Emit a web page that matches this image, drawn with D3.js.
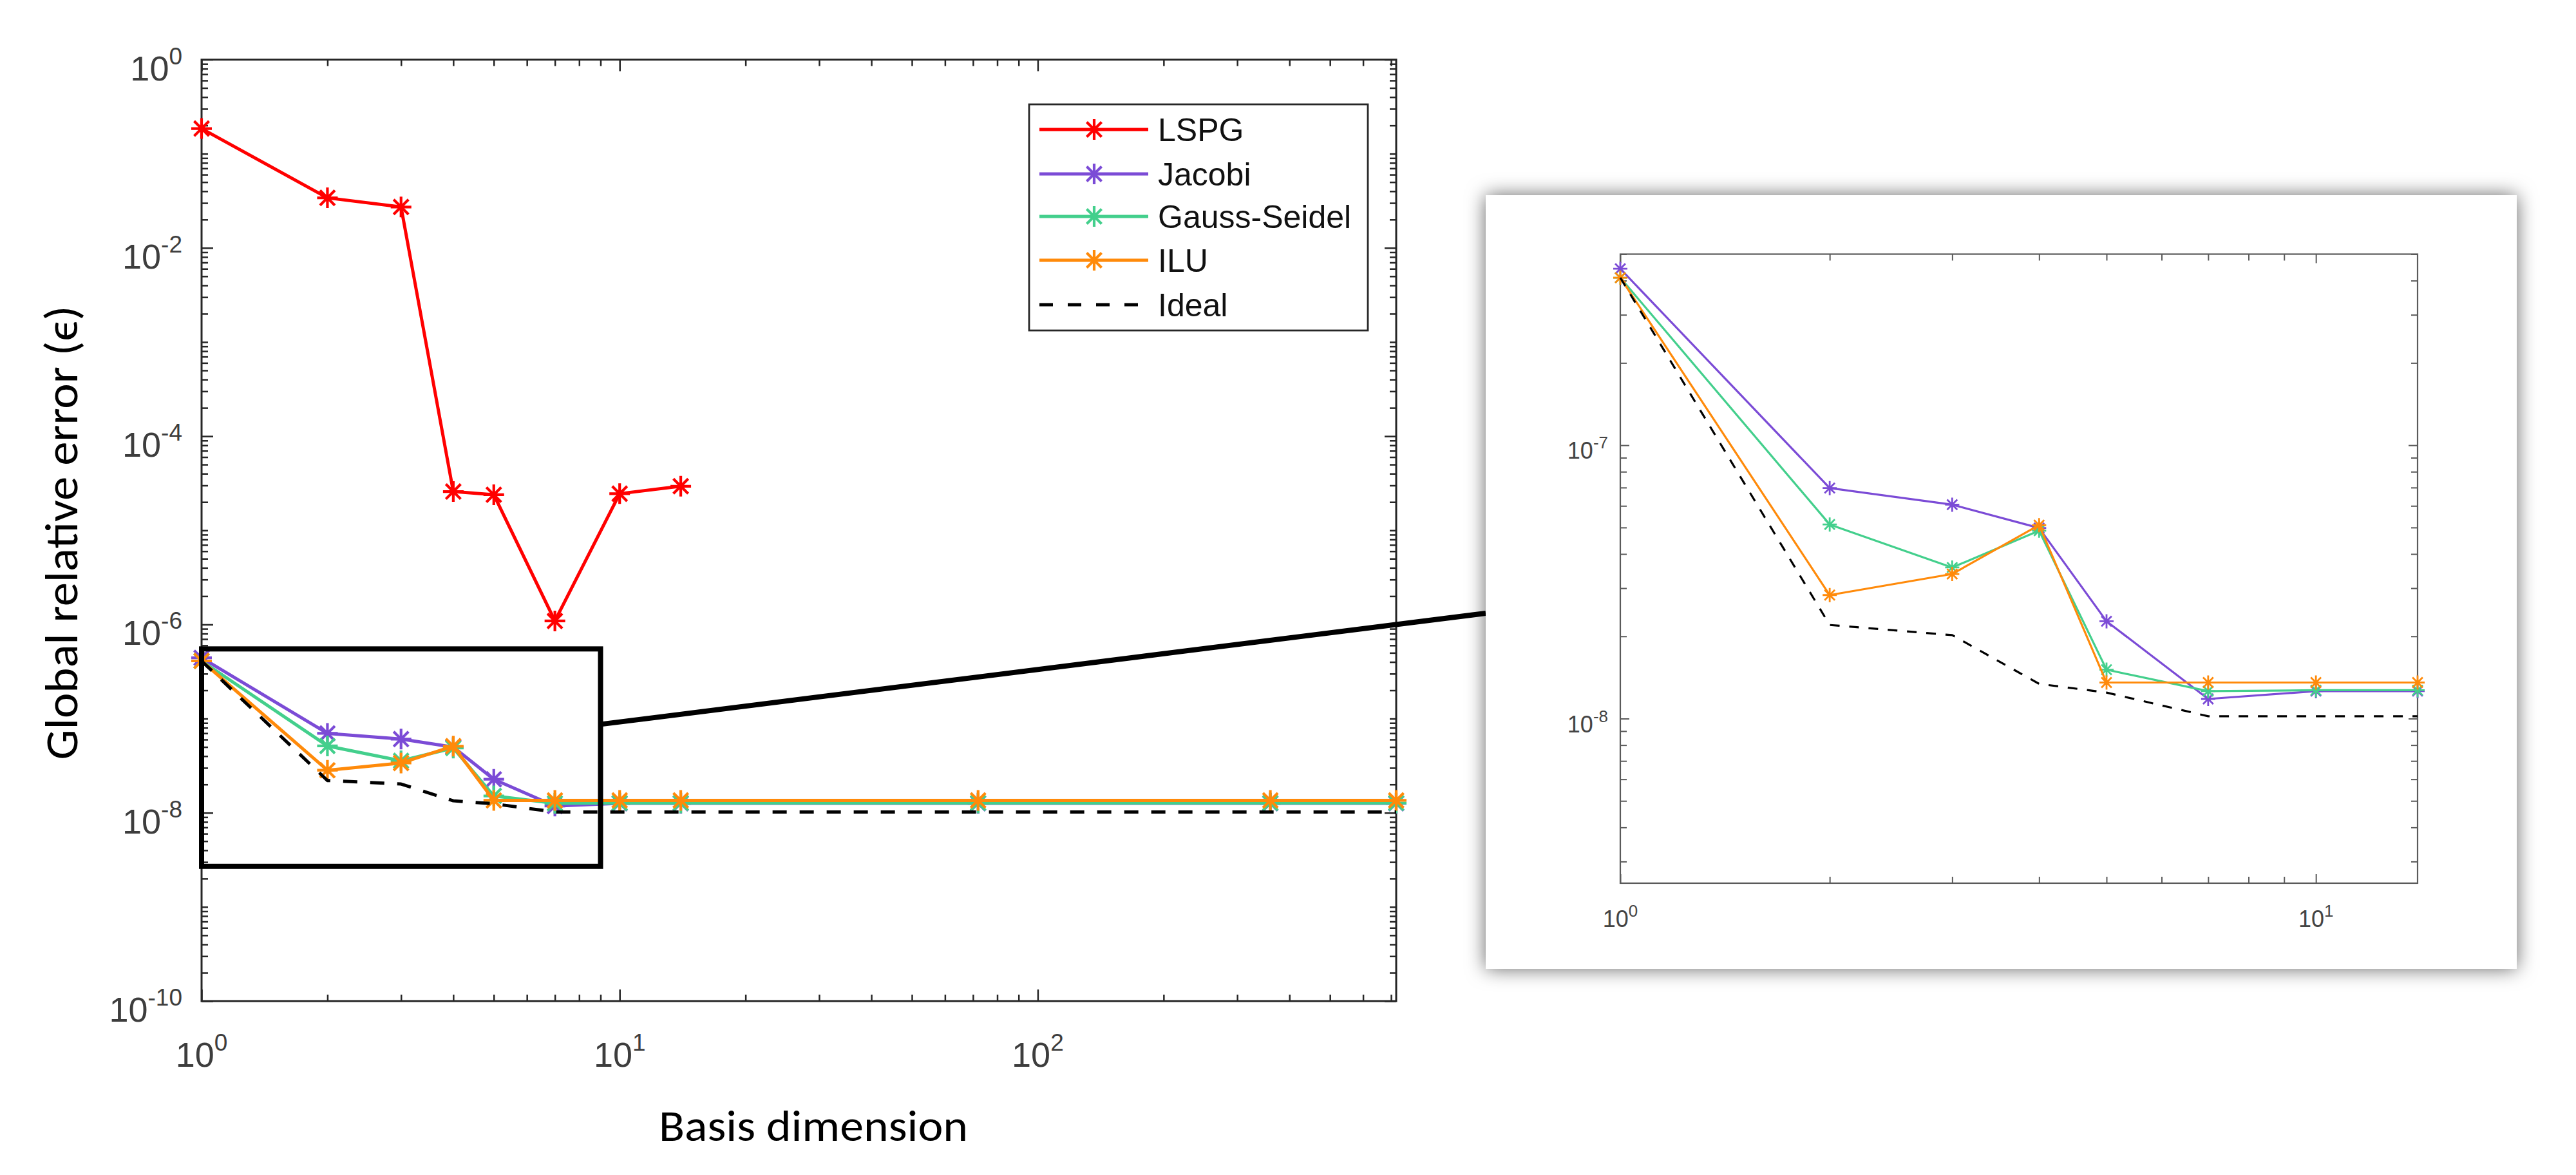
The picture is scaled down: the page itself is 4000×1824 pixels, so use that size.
<!DOCTYPE html>
<html>
<head>
<meta charset="utf-8">
<script src="https://cdn.jsdelivr.net/npm/d3@7"></script>
<style>
html,body{margin:0;padding:0;background:#fff;}
svg{display:block;}
</style>
</head>
<body>
<svg id="chart" width="4000" height="1824"></svg>
<script>
// ---------------- DATA ----------------
const basisDims   = [1, 2, 3, 4, 5, 7, 10, 14, 72, 360, 720];
const lspgErr     = [0.185, 0.034, 0.0272, 2.58e-5, 2.39e-5, 1.09e-6, 2.45e-5, 2.94e-5];
const jacobiErr   = [4.42e-7, 6.97e-8, 6.06e-8, 4.98e-8, 2.27e-8, 1.18e-8, 1.26e-8, 1.26e-8, 1.26e-8, 1.26e-8, 1.26e-8];
const gaussErr    = [4.10e-7, 5.13e-8, 3.57e-8, 4.87e-8, 1.51e-8, 1.26e-8, 1.27e-8, 1.27e-8, 1.27e-8, 1.27e-8, 1.27e-8];
const iluErr      = [4.10e-7, 2.83e-8, 3.38e-8, 5.10e-8, 1.355e-8, 1.355e-8, 1.355e-8, 1.355e-8, 1.355e-8, 1.355e-8, 1.355e-8];
const idealErr    = [4.10e-7, 2.20e-8, 2.02e-8, 1.34e-8, 1.245e-8, 1.02e-8, 1.02e-8, 1.02e-8, 1.02e-8, 1.02e-8, 1.02e-8];
const seriesNames = ["LSPG", "Jacobi", "Gauss-Seidel", "ILU", "Ideal"];

const mainXDomain = [1, 720];
const mainYDomain = [1e-10, 1];
const mainXLabelExps = [0, 1, 2];
const mainYLabelExps = [0, -2, -4, -6, -8, -10];

const insetXDomain = [1, 14];
const insetYDomain = [2.5e-9, 5e-7];
const insetXLabelExps = [0, 1];
const insetYLabelExps = [-7, -8];

const zoomBoxX = [1, 9];
const zoomBoxY = [2.7e-9, 5.5e-7];
const connectorY = 8.7e-8;

const xAxisTitle = "Basis dimension";
const yAxisTitle = "Global relative error (\u03F5)";

// ---------------- STYLE / LAYOUT ----------------
const colors = {"LSPG":"#ff0000","Jacobi":"#7b4bd6","Gauss-Seidel":"#43cf8c","ILU":"#ff8a0a","Ideal":"#000000"};
const M = {l:313, r:2168, t:92.5, b:1554};
const P = {x0:2307, x1:3908, y0:303, y1:1504};   // inset panel
const I = {l:2516, r:3754, t:394.5, b:1371};     // inset axes
const tickFont = "'Liberation Sans', Arial, Helvetica, sans-serif";
const titleFont = "Carlito, Calibri, Lato, 'Open Sans', sans-serif";

const svg = d3.select("#chart");
const defs = svg.append("defs");
const f = defs.append("filter").attr("id","shadow")
  .attr("x","-10%").attr("y","-10%").attr("width","120%").attr("height","120%");
f.append("feDropShadow").attr("dx",0).attr("dy",0).attr("stdDeviation",15)
  .attr("flood-color","#000").attr("flood-opacity",0.6);

function asterisk(r){
  const a = r*0.72;
  return `M0,${-r}L0,${r}M${-r},0L${r},0M${-a},${-a}L${a},${a}M${-a},${a}L${a},${-a}`;
}

function seriesData(vals){ return vals.map((v,i)=>({x:basisDims[i], y:v})); }
const allSeries = [
  {name:"LSPG", data:seriesData(lspgErr), dashed:false},
  {name:"Jacobi", data:seriesData(jacobiErr), dashed:false},
  {name:"Gauss-Seidel", data:seriesData(gaussErr), dashed:false},
  {name:"ILU", data:seriesData(iluErr), dashed:false},
  {name:"Ideal", data:seriesData(idealErr), dashed:true}
];

function minorTicks(lo, hi){
  const out = [];
  const e0 = Math.floor(Math.log10(lo)), e1 = Math.ceil(Math.log10(hi));
  for (let e=e0; e<=e1; e++) for (let k=1; k<=9; k++){
    const v = k*Math.pow(10,e);
    if (v>=lo*0.9999 && v<=hi*1.0001) out.push(v);
  }
  return out;
}

function drawAxesBox(g, x, y, box, opt){
  const xMinor = minorTicks(x.domain()[0], x.domain()[1]);
  const yMinor = minorTicks(y.domain()[0], y.domain()[1]);
  const xMajor = opt.xMajor, yMajor = opt.yMajor;
  const isMajor = (arr, v) => arr.some(m => Math.abs(m-v)/m < 1e-6);
  const xm = xMinor.filter(v=>!isMajor(xMajor,v)), ym = yMinor.filter(v=>!isMajor(yMajor,v));
  const specs = [
    [d3.axisBottom(x), `translate(0,${box.b})`, xm, opt.minorLen],
    [d3.axisBottom(x), `translate(0,${box.b})`, xMajor, opt.majorLen],
    [d3.axisTop(x), `translate(0,${box.t})`, xm, opt.minorLen],
    [d3.axisTop(x), `translate(0,${box.t})`, xMajor, opt.majorLen],
    [d3.axisLeft(y), `translate(${box.l},0)`, ym, opt.minorLen],
    [d3.axisLeft(y), `translate(${box.l},0)`, yMajor, opt.majorLen],
    [d3.axisRight(y), `translate(${box.r},0)`, ym, opt.minorLen],
    [d3.axisRight(y), `translate(${box.r},0)`, yMajor, opt.majorLen]
  ];
  specs.forEach(([ax, tr, vals, len])=>{
    const a = g.append("g").attr("transform", tr)
      .call(ax.tickValues(vals).tickSizeInner(-len).tickSizeOuter(0).tickFormat(""));
    a.select(".domain").remove();
    a.selectAll(".tick line").attr("stroke", opt.color).attr("stroke-width", opt.tickW);
    a.selectAll(".tick text").remove();
  });
  g.append("rect").attr("x",box.l).attr("y",box.t)
    .attr("width",box.r-box.l).attr("height",box.b-box.t)
    .attr("fill","none").attr("stroke",opt.color).attr("stroke-width",opt.frameW);
}

function powLabel(g, x, y, exp, anchor, fs, sfs, sdy, fill){
  const t = g.append("text").attr("x",x).attr("y",y).attr("text-anchor",anchor)
    .attr("font-family",tickFont).attr("font-size",fs).attr("fill",fill);
  t.append("tspan").text("10");
  t.append("tspan").attr("font-size",sfs).attr("dy",sdy).text(String(exp));
  return t;
}

function drawSeries(g, x, y, series, lw, mr, mw, dash, filterX){
  series.forEach(s=>{
    const d = s.data.filter(p => filterX ? (p.x>=filterX[0] && p.x<=filterX[1]*1.0001) : true);
    const line = d3.line().x(p=>x(p.x)).y(p=>y(p.y));
    g.append("path").datum(d).attr("d",line).attr("fill","none")
      .attr("stroke",colors[s.name]).attr("stroke-width",lw)
      .attr("stroke-dasharray", s.dashed ? dash : null)
      .attr("stroke-linejoin","round");
    if (!s.dashed){
      g.append("g").selectAll("path").data(d).join("path")
        .attr("transform",p=>`translate(${x(p.x)},${y(p.y)})`)
        .attr("d",asterisk(mr)).attr("fill","none")
        .attr("stroke",colors[s.name]).attr("stroke-width",mw).attr("stroke-linecap","butt");
    }
  });
}

// ---------------- MAIN PLOT ----------------
const x = d3.scaleLog().domain(mainXDomain).range([M.l, M.r]);
const y = d3.scaleLog().domain(mainYDomain).range([M.b, M.t]);
const gMain = svg.append("g");

drawAxesBox(gMain, x, y, M, {
  xMajor: mainXLabelExps.map(e=>Math.pow(10,e)),
  yMajor: mainYLabelExps.map(e=>Math.pow(10,e)),
  minorLen:10, majorLen:18, color:"#262626", tickW:2.5, frameW:3
});

mainYLabelExps.forEach(e=>{
  powLabel(gMain, 283, y(Math.pow(10,e))+32, e, "end", 54, 37, -25, "#3d3d3d");
});
mainXLabelExps.forEach(e=>{
  powLabel(gMain, x(Math.pow(10,e)), 1656, e, "middle", 54, 37, -25, "#3d3d3d");
});

drawSeries(gMain, x, y, allSeries, 5, 16, 4.2, "22,20", null);

// axis titles
gMain.append("text").attr("transform",`translate(120,827) rotate(-90)`)
  .attr("text-anchor","middle").attr("font-family",titleFont).attr("font-size",72)
  .attr("fill","#000").attr("textLength",705).attr("lengthAdjust","spacingAndGlyphs")
  .text(yAxisTitle);
gMain.append("text").attr("x",1263).attr("y",1771)
  .attr("text-anchor","middle").attr("font-family",titleFont).attr("font-size",68)
  .attr("fill","#000").attr("textLength",480).attr("lengthAdjust","spacingAndGlyphs")
  .text(xAxisTitle);

// zoom rectangle + connector
gMain.append("rect")
  .attr("x",x(zoomBoxX[0])).attr("y",y(zoomBoxY[1]))
  .attr("width",x(zoomBoxX[1])-x(zoomBoxX[0])).attr("height",y(zoomBoxY[0])-y(zoomBoxY[1]))
  .attr("fill","none").attr("stroke","#000").attr("stroke-width",8);
gMain.append("line")
  .attr("x1",x(zoomBoxX[1])).attr("y1",y(connectorY))
  .attr("x2",P.x0).attr("y2",952)
  .attr("stroke","#000").attr("stroke-width",8);

// legend
const L = {x0:1598, x1:2124, y0:162, y1:513, rowY:[201,270,336,404,473]};
const gLeg = svg.append("g");
gLeg.append("rect").attr("x",L.x0).attr("y",L.y0).attr("width",L.x1-L.x0).attr("height",L.y1-L.y0)
  .attr("fill","#fff").attr("stroke","#262626").attr("stroke-width",2.8);
seriesNames.forEach((n,i)=>{
  const yy = L.rowY[i];
  const s = allSeries[i];
  gLeg.append("line").attr("x1",1614).attr("x2",s.dashed?1771:1783).attr("y1",yy).attr("y2",yy)
    .attr("stroke",colors[n]).attr("stroke-width",5)
    .attr("stroke-dasharray", s.dashed ? "21,23" : null);
  if (!s.dashed){
    gLeg.append("path").attr("transform",`translate(1699,${yy})`).attr("d",asterisk(16))
      .attr("fill","none").attr("stroke",colors[n]).attr("stroke-width",4.2);
  }
  gLeg.append("text").attr("x",1798).attr("y",yy+18).attr("font-family",tickFont)
    .attr("font-size",50).attr("fill","#111").text(n);
});

// ---------------- INSET ----------------
const gIn = svg.append("g");
gIn.append("rect").attr("x",P.x0).attr("y",P.y0).attr("width",P.x1-P.x0).attr("height",P.y1-P.y0)
  .attr("fill","#fff").attr("filter","url(#shadow)");

const xi = d3.scaleLog().domain(insetXDomain).range([I.l, I.r]);
const yi = d3.scaleLog().domain(insetYDomain).range([I.b, I.t]);
drawAxesBox(gIn, xi, yi, I, {
  xMajor: insetXLabelExps.map(e=>Math.pow(10,e)),
  yMajor: insetYLabelExps.map(e=>Math.pow(10,e)),
  minorLen:10, majorLen:14, color:"#5a5a5a", tickW:2, frameW:2.2
});
insetYLabelExps.forEach(e=>{
  powLabel(gIn, 2497, yi(Math.pow(10,e))+21, e, "end", 36, 26, -16, "#444");
});
insetXLabelExps.forEach(e=>{
  powLabel(gIn, xi(Math.pow(10,e)), 1439, e, "middle", 36, 26, -16, "#444");
});
drawSeries(gIn, xi, yi, allSeries.filter(s=>s.name!=="LSPG"), 3.2, 11, 2.8, "15,15", insetXDomain);
</script>
</body>
</html>
